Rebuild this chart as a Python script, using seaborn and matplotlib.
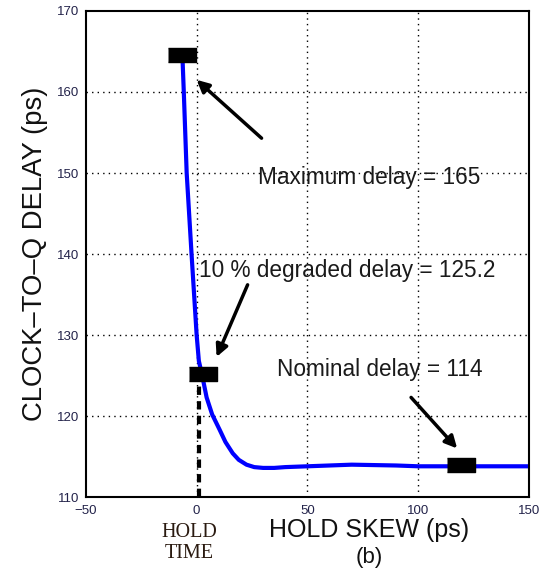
import numpy as np
import pandas as pd
import matplotlib
matplotlib.use("Agg")
import matplotlib.pyplot as plt
import seaborn as sns

# curve data
skew = [-6.5, -5.8, -4.5, -2.3, 0, 1, 2.5, 4.5, 7, 10.4, 13, 16.3, 19, 22.5, 26, 30,
        35, 40, 50, 60, 70, 80, 90, 100, 110, 120, 130, 140, 150]
delay = [165, 160, 150, 140, 130, 126.8, 125, 122.3, 120.2, 118.3, 116.8, 115.4, 114.6, 114.0,
         113.7, 113.6, 113.6, 113.7, 113.8, 113.9, 114.0, 113.95, 113.9, 113.8, 113.8, 113.8,
         113.8, 113.8, 113.8]

# highlighted points
mark_x = [-6.8, 3.0, 119.5]
mark_y = [164.6, 125.2, 114.0]

labels = ["Maximum delay = 165", "10 % degraded delay = 125.2", "Nominal delay = 114"]
x_ticks = [-50, 0, 50, 100, 150]
y_ticks = [110, 120, 130, 140, 150, 160, 170]

sns.set_style("white")
plt.rcParams['font.family'] = ['Liberation Sans', 'DejaVu Sans']

df = pd.DataFrame({"skew": skew, "delay": delay})

fig = plt.figure(figsize=(5.47, 5.78), dpi=100)
ax = fig.add_axes([0.157, 0.140, 0.810, 0.841])

# dotted grid
for xt in x_ticks[1:-1]:
    ax.axvline(xt, color="black", ls=(0, (1, 3)), lw=1.0, zorder=0)
for yt in y_ticks[1:-1]:
    ax.axhline(yt, color="black", ls=(0, (1, 3)), lw=1.0, zorder=0)

# hold time marker line
ax.plot([1, 1], [110, mark_y[1]], color="black", ls=(0, (2, 1.5)), lw=3, zorder=1)

sns.lineplot(data=df, x="skew", y="delay", ax=ax, color="blue", lw=3, zorder=2)

rect = [(-1, -0.5), (1, -0.5), (1, 0.5), (-1, 0.5)]
ax.scatter(mark_x, mark_y, marker=rect, s=20 ** 2, color="black", zorder=3)

# annotations
text_pos = [(27.5, 149.4), (1.2, 138.0), (36.3, 125.7)]
arrow_tail = [(29.3, 154.3), (23, 136.2), (96.8, 122.3)]
arrow_head = [(0, 161.5), (9, 127.3), (117.6, 116.0)]
for lab, tp, at, ah in zip(labels, text_pos, arrow_tail, arrow_head):
    ax.text(tp[0], tp[1], lab, fontsize=16.3, ha="left", va="center", color="#1a1a1a", zorder=4)
    ax.annotate("", xy=ah, xytext=at,
                arrowprops=dict(arrowstyle="-|>", color="black", lw=2.5,
                                mutation_scale=18, shrinkA=0, shrinkB=0), zorder=4)

ax.set_xlim(-50, 150)
ax.set_ylim(110, 170)
ax.set_xticks(x_ticks)
ax.set_yticks(y_ticks)
ax.tick_params(axis="both", labelsize=9.5, labelcolor="#23234a", direction="in", length=0)
ax.tick_params(axis="x", pad=6)
ax.tick_params(axis="y", pad=5)
ax.set_xlabel("")
ax.set_ylabel("")
for sp in ax.spines.values():
    sp.set_color("black")
    sp.set_linewidth(1.5)

fig.text(35 / 547, 1 - 254 / 578, "CLOCK\u2013TO\u2013Q DELAY (ps)", rotation=90,
         fontsize=19.8, ha="center", va="center", color="#111111")
fig.text(369 / 547, 1 - 530 / 578, "HOLD SKEW (ps)", fontsize=18, ha="center", va="center",
         color="#111111")
fig.text(369 / 547, 1 - 558 / 578, "(b)", fontsize=16, ha="center", va="center", color="#111111")
fig.text(189 / 547, 1 - 543 / 578, "HOLD\nTIME", fontsize=14.5, ha="center", va="center",
         family=["Liberation Serif", "DejaVu Serif"], linespacing=1.15, color="#2a1a10")

fig.savefig("out.png", dpi=100)
